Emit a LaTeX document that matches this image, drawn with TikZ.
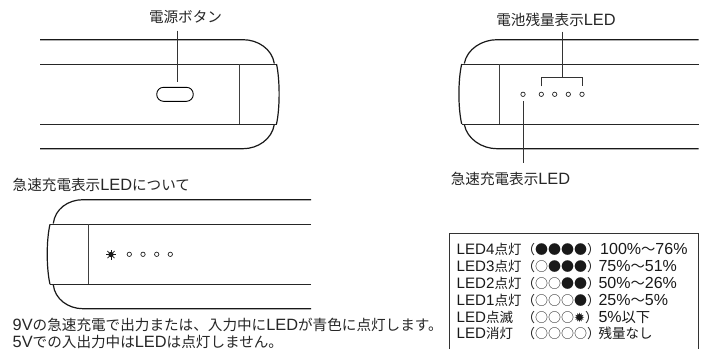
\documentclass[tikz,border=0pt]{standalone}
\usepackage{fontspec}
\setmainfont{Noto Sans CJK JP}
\newfontfamily\symfont{DejaVu Sans}
\newfontfamily\latfont[Scale=1.12]{Liberation Sans}
\newcommand{\sun}{{\symfont ✹}}
\newcommand{\lat}[1]{{\latfont #1}}
\tikzset{
  x=1pt,y=-1pt,
  outer/.style={draw=black!90,line width=1.2pt},
  inner/.style={draw=black!85,line width=0.9pt},
  thinl/.style={draw=black!75,line width=0.7pt},
  lead/.style={draw=black!80,line width=0.8pt},
  led/.style={circle,draw=black!85,line width=0.7pt,minimum size=4.4pt,inner sep=0pt},
  btn/.style={rectangle,rounded corners=6.8pt,draw=black,line width=0.9pt,minimum width=36.5pt,minimum height=14pt,inner sep=0pt},
  lbl/.style={font=\fontsize{14.6}{16}\selectfont,inner sep=0pt,text=black!85},
  tbl/.style={font=\fontsize{13.5}{16}\selectfont,inner sep=0pt,anchor=base west,text=black!90},
  tblc/.style={font=\fontsize{13}{16}\selectfont,inner sep=0pt,anchor=base west,text=black!90},
  tblp/.style={font=\fontsize{14.3}{16}\selectfont,inner sep=0pt,anchor=base west,text=black!90},
  sunpic/.pic={
    \fill[black!90] (0,0) circle (2.6);
    \foreach \a in {0,45,...,315}
      \draw[black!90,line width=0.7pt] (\a:2) -- (\a:5);
  },
}
\begin{document}
\begin{tikzpicture}
\useasboundingbox (0,0) rectangle (706,349);
% --- top left
\draw[outer] (40,39.7) -- (243,39.7) .. controls (258,39.7) and (272,49) .. (274.3,63.5);
\draw[outer] (40,148.7) -- (243,148.7) .. controls (258,148.7) and (272,139) .. (274.3,124.5);
\draw[inner] (40,64) -- (276.5,64);
\draw[inner] (40,124) -- (276.5,124);
\draw[outer] (276.5,64) .. controls (280,80) and (280,108) .. (276.5,124);
\draw[thinl] (239,64) -- (239,124);
\node[btn] (power) at (175,94.3) {};
\node[lbl] (powerlabel) at (185.5,17) {電源ボタン};
\coordinate (powertop) at (177.3,30.7);
\coordinate (powerend) at (177.3,82.3);
\draw[lead] (powertop) -- (powerend);
% --- top right
\draw[outer] (698.7,39.7) -- (497,39.7) .. controls (482,39.7) and (467,49) .. (464.3,63.5);
\draw[outer] (698.7,148.7) -- (497,148.7) .. controls (482,148.7) and (467,139) .. (464.3,124.5);
\draw[inner] (698.7,64) -- (461.7,64);
\draw[inner] (698.7,124) -- (461.7,124);
\draw[outer] (461.7,64) .. controls (458,80) and (458,108) .. (461.7,124);
\draw[thinl] (499.7,64) -- (499.7,124);
\node[led] (q) at (523,94.3) {};
\node[led] (a) at (541.3,94.3) {};
\node[led] (b) at (554.7,94.3) {};
\node[led] (c) at (568.3,94.3) {};
\node[led] (d) at (582,94.3) {};
\node[lbl] (batlabel) at (556,20) {電池残量表示\lat{LED}};
\node[lbl] (fastlabel) at (510.5,179) {急速充電表示\lat{LED}};
\coordinate (bl) at (541.3,86.3);
\coordinate (blt) at (541.3,77);
\coordinate (br) at (582,86.3);
\coordinate (brt) at (582,77);
\coordinate (stemb) at (562.3,77);
\coordinate (stemt) at (562.3,31.7);
\coordinate (fastend) at (523,163.3);
\coordinate (faststart) at (523,101);
\draw[lead] (bl) -- (blt) -- (brt) -- (br);
\draw[lead] (stemt) -- (stemb);
\draw[lead] (faststart) -- (fastend);
% --- lower left
\node[lbl,anchor=base west] (title) at (12.5,190.5) {急速充電表示\lat{LED}について};
\draw[outer] (311,199.7) -- (83,199.7) .. controls (68,199.7) and (55,209) .. (53.3,223.5);
\draw[outer] (311,308.7) -- (83,308.7) .. controls (68,308.7) and (55,299) .. (53.3,285);
\draw[inner] (311,224.3) -- (50,224.3);
\draw[inner] (311,284.3) -- (50,284.3);
\draw[outer] (50,224.3) .. controls (46.3,240) and (46.3,268) .. (50,284.3);
\draw[thinl] (88,224.3) -- (88,284.3);
\pic at (111,254.5) {sunpic};
\node[led] (s2) at (129.3,254.3) {};
\node[led] (s3) at (143,254.3) {};
\node[led] (s4) at (156.7,254.3) {};
\node[led] (s5) at (170.3,254.3) {};
\node[lbl,anchor=base west] (body1) at (12.5,330) {\lat{9V}の急速充電で出力または、入力中に\lat{LED}が青色に点灯します。};
\node[lbl,anchor=base west] (body2) at (12.5,347) {\lat{5V}での入出力中は\lat{LED}は点灯しません。};
% --- table
\coordinate (f1) at (449.7,349);
\coordinate (f2) at (449.7,233.5);
\coordinate (f3) at (698,233.5);
\coordinate (f4) at (698,349);
\draw[lead] (f1) -- (f2) -- (f3) -- (f4);
\node[tbl] (r1a) at (456.5,254) {\lat{LED4}点灯};
\node[tblc] (r1b) at (522,254) {（●●●●）};
\node[tblp] (r1c) at (600,254) {\lat{100\%}〜\lat{76\%}};
\node[tbl] (r2a) at (456.5,271) {\lat{LED3}点灯};
\node[tblc] (r2b) at (522,271) {（○●●●）};
\node[tblp] (r2c) at (598.3,271) {\lat{75\%}〜\lat{51\%}};
\node[tbl] (r3a) at (456.5,288.5) {\lat{LED2}点灯};
\node[tblc] (r3b) at (522,288.5) {（○○●●）};
\node[tblp] (r3c) at (598.3,288.5) {\lat{50\%}〜\lat{26\%}};
\node[tbl] (r4a) at (456.5,305) {\lat{LED1}点灯};
\node[tblc] (r4b) at (522,305) {（○○○●）};
\node[tblp] (r4c) at (598.3,305) {\lat{25\%}〜\lat{5\%}};
\node[tbl] (r5a) at (456.5,322) {\lat{LED}点滅};
\node[tblc] (r5b) at (522,322) {（○○○\sun）};
\node[tblp] (r5c) at (598.3,322) {\lat{5\%}以下};
\node[tbl] (r6a) at (456.5,338.5) {\lat{LED}消灯};
\node[tblc] (r6b) at (522,338.5) {（○○○○）};
\node[tbl] (r6c) at (598.3,338.5) {残量なし};
\end{tikzpicture}
\end{document}
